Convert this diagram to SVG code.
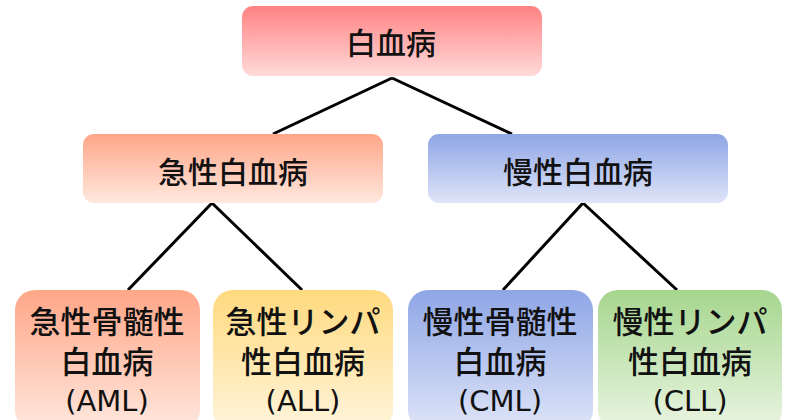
<svg xmlns="http://www.w3.org/2000/svg" width="787" height="420" viewBox="0 0 787 420">
<defs>
<linearGradient id="gRed" x1="0" y1="0" x2="0" y2="1"><stop offset="0" stop-color="#FF8282"/><stop offset="1" stop-color="#FFDADA"/></linearGradient>
<linearGradient id="gOrange" x1="0" y1="0" x2="0" y2="1"><stop offset="0" stop-color="#FFA688"/><stop offset="1" stop-color="#FFE8DE"/></linearGradient>
<linearGradient id="gBlue" x1="0" y1="0" x2="0" y2="1"><stop offset="0" stop-color="#8FA6E6"/><stop offset="1" stop-color="#DFE5F8"/></linearGradient>
<linearGradient id="gYellow" x1="0" y1="0" x2="0" y2="1"><stop offset="0" stop-color="#FFD97E"/><stop offset="1" stop-color="#FFF5DC"/></linearGradient>
<linearGradient id="gGreen" x1="0" y1="0" x2="0" y2="1"><stop offset="0" stop-color="#A6D68E"/><stop offset="1" stop-color="#EAF5E2"/></linearGradient>
</defs>
<style>
text{font-family:"Noto Sans CJK JP","Noto Sans",sans-serif;font-size:30px;font-weight:500;fill:#111;text-anchor:middle}
text.b{font-size:31px}
tspan.l{font-family:"DejaVu Sans",sans-serif;font-size:29px;font-weight:400}
.c line{stroke:#000;stroke-width:3}
</style>
<g class="c" id="connectors">
<line x1="392" y1="78" x2="273" y2="134"/>
<line x1="392" y1="78" x2="512" y2="134"/>
<line x1="212" y1="203" x2="128" y2="290"/>
<line x1="212" y1="203" x2="302" y2="290"/>
<line x1="583" y1="203" x2="503" y2="290"/>
<line x1="583" y1="203" x2="677" y2="290"/>
</g>
<g id="n0"><rect x="242" y="6" width="300" height="70" rx="11" fill="url(#gRed)"/><text x="391" y="54">白血病</text></g>
<g id="n1"><rect x="83" y="134" width="300" height="69" rx="11" fill="url(#gOrange)"/><text x="233" y="183">急性白血病</text></g>
<g id="n2"><rect x="428" y="134" width="300" height="69" rx="11" fill="url(#gBlue)"/><text x="578" y="183">慢性白血病</text></g>
<g id="n3"><rect x="15" y="290" width="185" height="140" rx="20" fill="url(#gOrange)"/><text class="b"><tspan x="107" y="333">急性骨髄性</tspan><tspan x="107" y="373">白血病</tspan><tspan class="l" x="107" y="411">(AML)</tspan></text></g>
<g id="n4"><rect x="213" y="290" width="180" height="140" rx="20" fill="url(#gYellow)"/><text class="b"><tspan x="303" y="333">急性リンパ</tspan><tspan x="303" y="373">性白血病</tspan><tspan class="l" x="303" y="411">(ALL)</tspan></text></g>
<g id="n5"><rect x="408" y="290" width="185" height="140" rx="20" fill="url(#gBlue)"/><text class="b"><tspan x="500" y="333">慢性骨髄性</tspan><tspan x="500" y="373">白血病</tspan><tspan class="l" x="500" y="411">(CML)</tspan></text></g>
<g id="n6"><rect x="598" y="290" width="184" height="140" rx="20" fill="url(#gGreen)"/><text class="b"><tspan x="690" y="333">慢性リンパ</tspan><tspan x="690" y="373">性白血病</tspan><tspan class="l" x="690" y="411">(CLL)</tspan></text></g>
</svg>
